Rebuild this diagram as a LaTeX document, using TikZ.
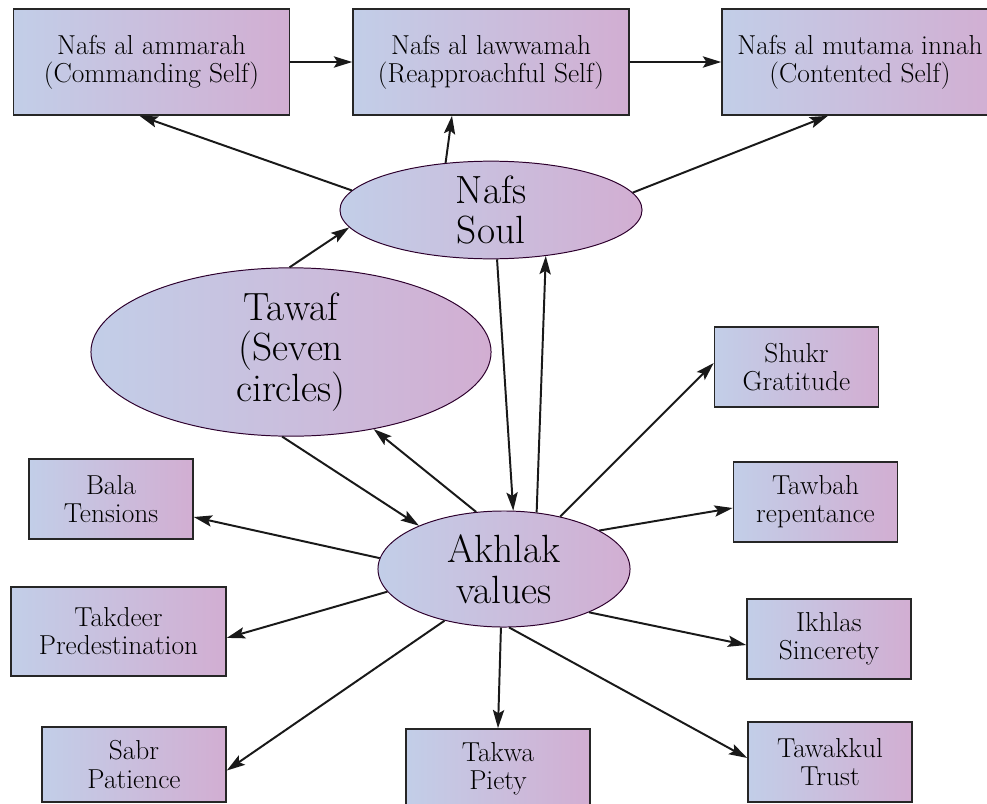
\documentclass[tikz,border=0pt]{standalone}
\usetikzlibrary{shapes.geometric,arrows.meta}

\definecolor{shadeblue}{RGB}{194,206,232}
\definecolor{shadepink}{RGB}{210,174,210}

\tikzset{
  box/.style={draw=black!85, line width=1.1pt, left color=shadeblue,
    right color=shadepink, align=center, inner sep=0pt,
    font=\fontsize{19.5}{20}\selectfont},
  topbox/.style={box, minimum width=6.9cm, minimum height=2.65cm},
  smallbox/.style={box, minimum width=4.1cm, minimum height=2cm},
  oval/.style={ellipse, draw=black!65!violet, line width=0.7pt,
    left color=shadeblue, right color=shadepink, align=center,
    inner sep=0pt, font=\fontsize{28}{29}\selectfont},
  arr/.style={-{Stealth[length=13pt,width=8pt,inset=2.5pt]},
    line width=1.4pt, black!90},
}

\begin{document}
\begin{tikzpicture}[x=0.025cm, y=-0.025cm]
    \useasboundingbox (0,0) rectangle (987,803);

    % Stages of the self
    \node[topbox] (amm) at (151.5,62) {Nafs al ammarah\\(Commanding Self)};
    \node[topbox] (law) at (491,62) {Nafs al lawwamah\\(Reapproachful Self)};
    \node[topbox] (mut) at (860,62) {Nafs al mutama innah\\(Contented Self)};

    % Ellipses
    \node[oval, minimum width=7.55cm, minimum height=2.2cm] (nafs) at (491,210) {Nafs\\Soul};
    \node[oval, minimum width=10cm, minimum height=4cm] (tawaf) at (291,352) {Tawaf\\(Seven\\circles)};
    \node[oval, minimum width=6.3cm, minimum height=2.9cm] (akhlak) at (504,569) {Akhlak\\values};

    % Values
    \node[smallbox] (shukr) at (796.5,367) {Shukr\\Gratitude};
    \node[smallbox] (tawbah) at (815.5,502) {Tawbah\\repentance};
    \node[smallbox] (ikhlas) at (829,639) {Ikhlas\\Sincerety};
    \node[smallbox] (tawakkul) at (830,762) {Tawakkul\\Trust};
    \node[smallbox, minimum width=4.6cm] (takwa) at (498,769) {Takwa\\Piety};
    \node[smallbox, minimum width=4.6cm, minimum height=1.875cm] (sabr) at (134,764.5) {Sabr\\Patience};
    \node[smallbox, minimum width=5.375cm, minimum height=2.225cm] (takdeer) at (118.5,631.5) {Takdeer\\Predestination};
    \node[smallbox] (bala) at (111,499) {Bala\\Tensions};

    % Top row
    \draw[arr] (amm.east) -- (law.west);
    \draw[arr] (law.east) -- (mut.west);

    % Soul to the stages
    \draw[arr] (nafs.172) -- ([xshift=-0.3cm]amm.south);
    \draw[arr] (nafs.134) -- ([xshift=-0.975cm]law.south);
    \draw[arr] (nafs.7) -- ([xshift=-0.8cm]mut.south);

    % Tawaf, soul and values
    \draw[arr] (tawaf.91) -- (nafs.187);
    \draw[arr] (nafs.277) -- (akhlak.81);
    \draw[arr] (akhlak.60) -- (nafs.-40);
    \draw[arr] (tawaf.264) -- (akhlak.153);
    \draw[arr] (akhlak.116) -- (tawaf.-43);

    % Values around Akhlak
    \foreach \a/\t/\s in {43/shukr/0.1, 22/tawbah/-0.15, -27/ikhlas/-0.15, -85/tawakkul/0.1}
        \draw[arr] (akhlak.\a) -- ([yshift=\s cm]\t.west);
    \foreach \a/\t/\s in {175/bala/-0.45, -169/takdeer/-0.16, -139/sabr/-0.15}
        \draw[arr] (akhlak.\a) -- ([yshift=\s cm]\t.east);
    \draw[arr] (akhlak.-93) -- (takwa.north);
\end{tikzpicture}
\end{document}
